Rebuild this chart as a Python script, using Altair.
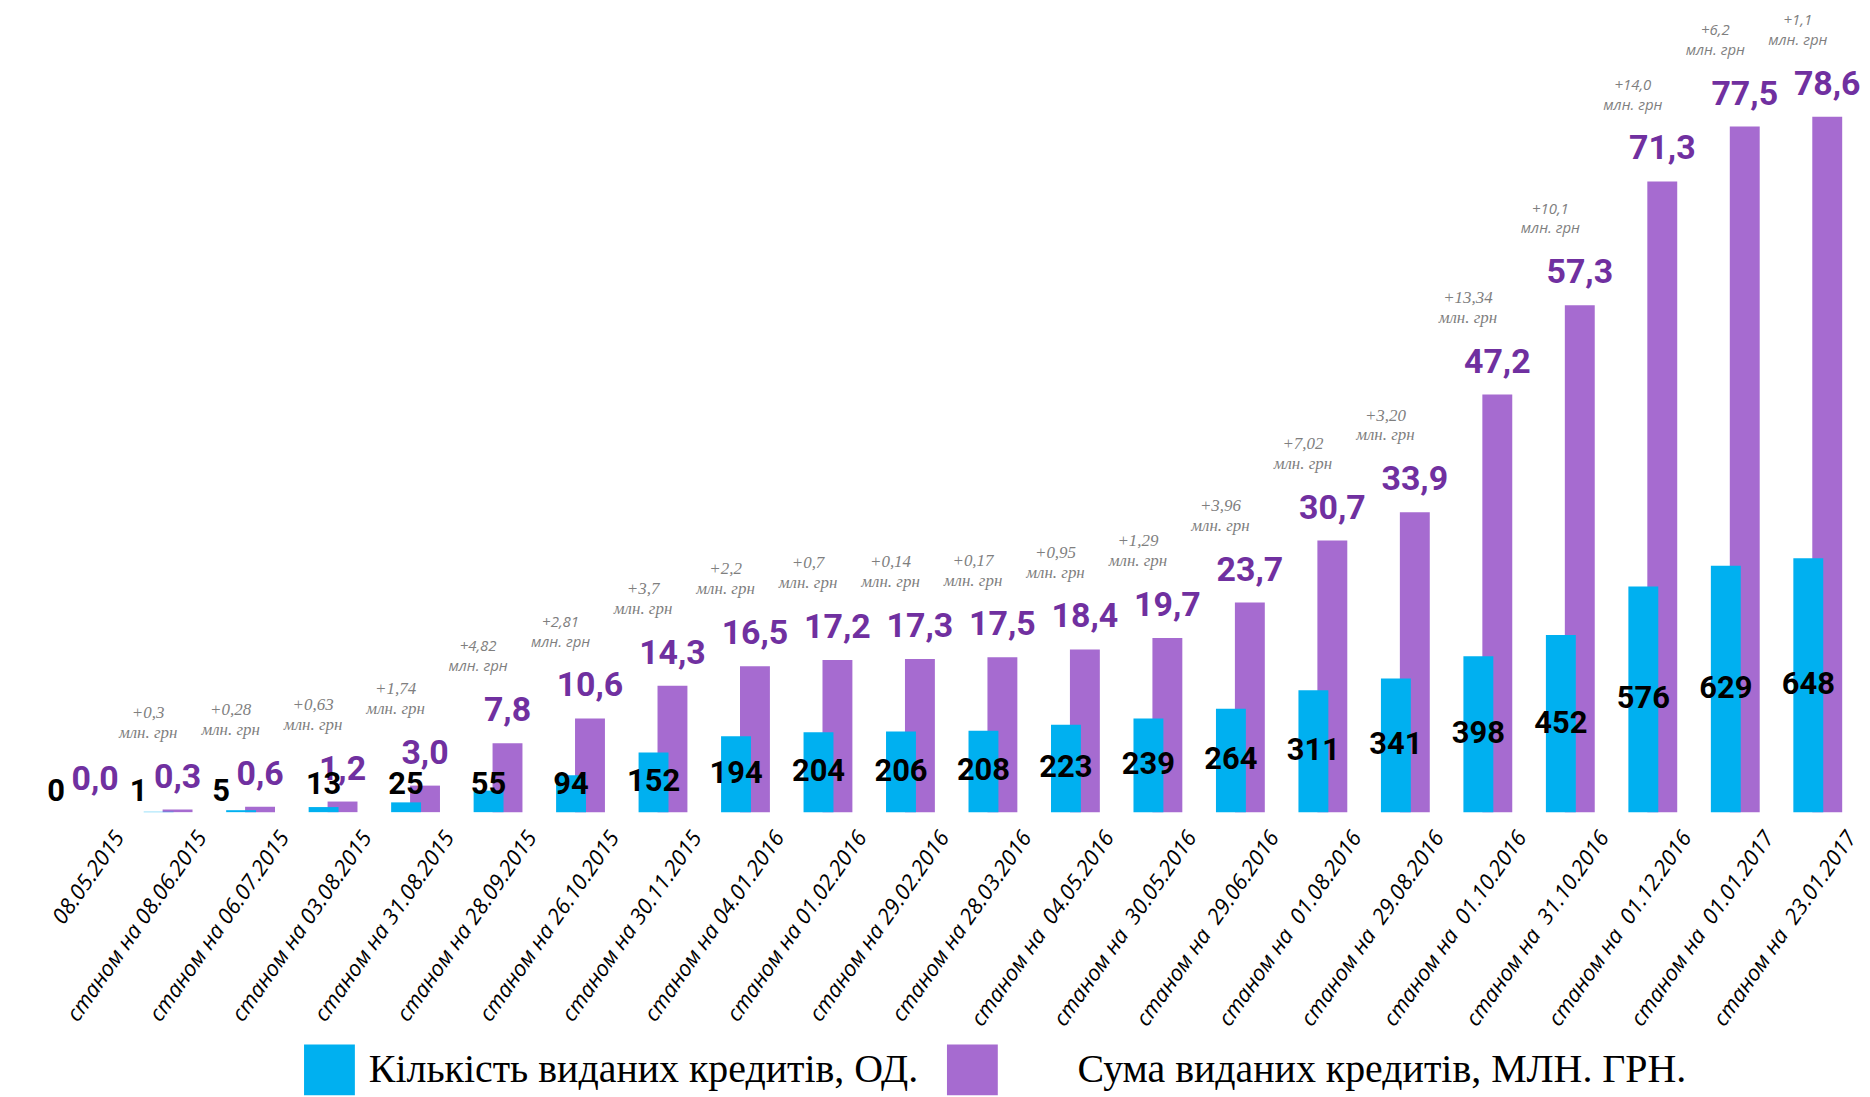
import altair as alt
import pandas as pd

# ---- data ----
dates = [
    "08.05.2015",
    "станом на 08.06.2015",
    "станом на 06.07.2015",
    "станом на 03.08.2015",
    "станом на 31.08.2015",
    "станом на 28.09.2015",
    "станом на 26.10.2015",
    "станом на 30.11.2015",
    "станом на 04.01.2016",
    "станом на 01.02.2016",
    "станом на 29.02.2016",
    "станом на 28.03.2016",
    "станом на\u00a0 04.05.2016",
    "станом на\u00a0 30.05.2016",
    "станом на\u00a0 29.06.2016",
    "станом на\u00a0 01.08.2016",
    "станом на\u00a0 29.08.2016",
    "станом на\u00a0 01.10.2016",
    "станом на\u00a0 31.10.2016",
    "станом на\u00a0 01.12.2016",
    "станом на\u00a0 01.01.2017",
    "станом на\u00a0 23.01.2017",
]
counts = [0, 1, 5, 13, 25, 55, 94, 152, 194, 204, 206, 208, 223, 239, 264,
          311, 341, 398, 452, 576, 629, 648]
sums = [0.0, 0.3, 0.6, 1.2, 3.0, 7.8, 10.6, 14.3, 16.5, 17.2, 17.3, 17.5,
        18.4, 19.7, 23.7, 30.7, 33.9, 47.2, 57.3, 71.3, 77.5, 78.6]
increments = ["", "+0,3", "+0,28", "+0,63", "+1,74", "+4,82", "+2,81", "+3,7",
              "+2,2", "+0,7", "+0,14", "+0,17", "+0,95", "+1,29", "+3,96",
              "+7,02", "+3,20", "+13,34", "+10,1", "+14,0", "+6,2", "+1,1"]

LEGEND_COUNT = "Кількість виданих кредитів, ОД."
LEGEND_SUM = "Сума виданих кредитів, МЛН. ГРН."
UNIT = "млн. грн"

# ---- styles ----
BLUE = "#00B0F0"
PURPLE = "#A66BD0"
PURPLE_TEXT = "#7030A0"
GREY = "#7F7F7F"
SANS_NOTES = ["+4,82", "+2,81", "+10,1", "+14,0", "+6,2", "+1,1"]

df = pd.DataFrame({"date": dates, "count": counts, "sum": sums, "inc": increments})
df["sum_lab"] = [f"{v:.1f}".replace(".", ",") for v in sums]
df["count_lab"] = [str(v) for v in counts]
df["note"] = [f"{s}\n{UNIT}" if s else "" for s in increments]
df["note_sans"] = [s in SANS_NOTES for s in increments]

x_axis = alt.Axis(
    title=None, labelAngle=-55, labelAlign="right", labelBaseline="middle",
    labelFont="Open Sans", labelFontStyle="italic", labelFontSize=22,
    labelColor="black", labelPadding=21, labelOffset=34, ticks=False,
    tickSize=0, domain=False, grid=False, labelLimit=500, labelOverlap=False,
)
X = alt.X("date:N", sort=None, title=None,
          scale=alt.Scale(paddingInner=0, paddingOuter=0.2205, align=1),
          axis=x_axis)
SUM_SCALE = alt.Scale(domain=[0, 90.7], nice=False, zero=True)
CNT_SCALE = alt.Scale(domain=[0, 2048], nice=False, zero=True)

base = alt.Chart(df)

legend_common = dict(
    orient="none", title=None, symbolType="square", symbolSize=2601,
    symbolStrokeWidth=0, symbolOpacity=1, labelFont="Liberation Serif",
    labelFontSize=40, labelColor="black", labelLimit=1000, padding=0,
    legendY=1038,
)

sum_bars = base.transform_calculate(series=f"'{LEGEND_SUM}'").mark_bar(
    width=30, xOffset=9.5
).encode(
    x=X,
    y=alt.Y("sum:Q", scale=SUM_SCALE, axis=None),
    fill=alt.Fill("series:N",
                  scale=alt.Scale(domain=[LEGEND_SUM], range=[PURPLE]),
                  legend=alt.Legend(legendX=942, labelOffset=80, **legend_common)),
)

cnt_bars = base.transform_calculate(series=f"'{LEGEND_COUNT}'").mark_bar(
    width=30, xOffset=-9.5
).encode(
    x=X,
    y=alt.Y("count:Q", scale=CNT_SCALE, axis=None),
    color=alt.Color("series:N",
                    scale=alt.Scale(domain=[LEGEND_COUNT], range=[BLUE]),
                    legend=alt.Legend(legendX=297, labelOffset=14, **legend_common)),
)

sum_text = base.mark_text(
    xOffset=9.5, dy=-22, baseline="alphabetic", align="center",
    font="Roboto", fontWeight="bold", fontSize=34, color=PURPLE_TEXT,
).encode(
    x=X, y=alt.Y("sum:Q", scale=SUM_SCALE, axis=None), text="sum_lab:N"
)

cnt_text_style = dict(baseline="middle", align="center", font="Roboto",
                      fontWeight="bold", fontSize=31, color="black")

# labels of bars tall enough: centred in the bar (never below a minimum height)
cnt_text = base.transform_filter("datum.count >= 10").transform_calculate(
    lab_y="max(datum.count / 2, 68)"
).mark_text(xOffset=-9.5, **cnt_text_style).encode(
    x=X, y=alt.Y("lab_y:Q", scale=CNT_SCALE, axis=None), text="count_lab:N"
)

# labels of near-empty bars: pushed left, next to the bar
cnt_text_small = base.transform_filter("datum.count < 10").transform_calculate(
    lab_y="52"
).mark_text(xOffset=-29.5, **cnt_text_style).encode(
    x=X, y=alt.Y("lab_y:Q", scale=CNT_SCALE, axis=None), text="count_lab:N"
)

notes_serif = base.transform_filter("datum.inc != '' && !datum.note_sans").mark_text(
    xOffset=-20, dy=-92, lineBreak="\n", lineHeight=20, baseline="alphabetic",
    align="center", font="Liberation Serif", fontStyle="italic", fontSize=17,
    color=GREY,
).encode(
    x=X, y=alt.Y("sum:Q", scale=SUM_SCALE, axis=None), text="note:N"
)

notes_sans = base.transform_filter("datum.inc != '' && datum.note_sans").mark_text(
    xOffset=-20, dy=-92, lineBreak="\n", lineHeight=20, baseline="alphabetic",
    align="center", font="Open Sans", fontStyle="italic", fontSize=15,
    color=GREY,
).encode(
    x=X, y=alt.Y("sum:Q", scale=SUM_SCALE, axis=None), text="note:N"
)

chart = alt.layer(
    sum_bars, cnt_bars, sum_text, cnt_text, cnt_text_small, notes_serif, notes_sans
).resolve_scale(
    y="independent"
).properties(
    width=1857, height=805,
    padding={"left": 0, "top": 0, "right": 3, "bottom": 284},
    autosize=alt.AutoSizeParams(type="none"),
    background="white",
).configure_view(stroke=None)

chart.save("out.html", embed_options={"renderer": "svg", "actions": False})
